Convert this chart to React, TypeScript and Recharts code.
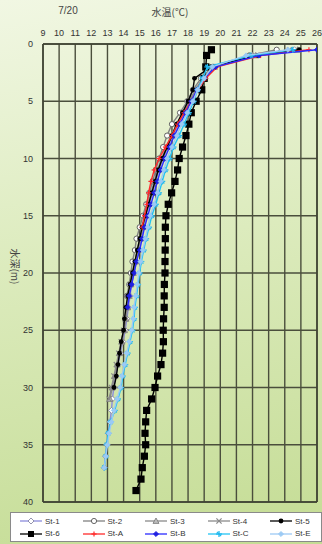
import React from 'react';
import { ScatterChart, Scatter, XAxis, YAxis, CartesianGrid, ReferenceLine } from 'recharts';

const depths = [0.5, 1, 2, 3, 4, 5, 6, 7, 8, 9, 10, 11, 12, 13, 14, 15, 16, 17, 18, 19, 20, 21, 22, 23, 24, 25, 26, 27, 28, 29, 30, 31, 32, 33, 34, 35, 36, 37, 38, 39];
const xTicks = [9, 10, 11, 12, 13, 14, 15, 16, 17, 18, 19, 20, 21, 22, 23, 24, 25, 26];
const yTicks = [0, 5, 10, 15, 20, 25, 30, 35, 40];

const st1 = [24.6, 22.0, 19.6, 19.0, 18.5, 18.15, 17.8, 17.4, 17.05, 16.75, 16.45, 16.2, 16.0, 15.8, 15.6, 15.4, 15.25, 15.1, 14.95, 14.8, 14.65, 14.5, 14.4, 14.3, 14.2, 14.1, 13.95, 13.8, 13.65, 13.5, 13.4, 13.3, 13.25, 13.15, 13.05, 12.95, 12.88, 12.8];
const st2 = [23.5, 21.8, 19.5, 18.8, 18.3, 17.95, 17.5, 17.0, 16.7, 16.45, 16.2, 16.0, 15.8, 15.6, 15.4, 15.2, 15.0, 14.8, 14.7, 14.55, 14.45, 14.35, 14.2];
const st3 = [24.8, 22.2, 19.6, 18.95, 18.5, 18.1, 17.7, 17.3, 17.0, 16.7, 16.4, 16.15, 15.95, 15.75, 15.55, 15.35, 15.2, 15.05, 14.9, 14.75, 14.6, 14.45, 14.35, 14.25, 14.15, 14.05, 13.9, 13.75, 13.6, 13.45, 13.3, 13.15];
const st4 = [24.3, 21.9, 19.5, 18.9, 18.45, 18.05, 17.65, 17.3, 16.95, 16.65, 16.35, 16.1, 15.9, 15.7, 15.5, 15.3, 15.15, 15.0, 14.85, 14.7, 14.55, 14.4, 14.3, 14.2, 14.1, 14.0, 13.85, 13.7, 13.55, 13.4, 13.25, 13.1];
const st5 = [24.9, 22.3, 19.4, 18.4, 18.3, 18.0, 17.65, 17.3, 17.0, 16.7, 16.4, 16.15, 15.95, 15.75, 15.55, 15.35, 15.15, 15.0, 14.85, 14.7, 14.55, 14.4, 14.25, 14.15, 14.05, 14.0, 13.85, 13.75, 13.65, 13.55, 13.4];
const st6 = [19.45, 19.15, 19.1, 19.0, 18.85, 18.5, 18.2, 18.05, 17.87, 17.66, 17.45, 17.35, 17.19, 16.98, 16.77, 16.63, 16.59, 16.59, 16.58, 16.57, 16.57, 16.53, 16.52, 16.52, 16.48, 16.46, 16.47, 16.42, 16.32, 16.11, 15.95, 15.74, 15.43, 15.37, 15.33, 15.37, 15.29, 15.16, 15.08, 14.77];
const stA = [25.5, 22.5, 19.8, 19.1, 18.6, 18.2, 17.75, 17.35, 17.0, 16.6, 16.2, 15.9, 15.7, 15.55, 15.45, 15.3, 15.15];
const stB = [26.0, 22.4, 19.7, 19.0, 18.55, 18.2, 17.85, 17.5, 17.15, 16.85, 16.55, 16.3, 16.1, 15.9, 15.7, 15.5, 15.3, 15.15, 15.0, 14.8, 14.65, 14.5, 14.35, 14.25];
const stC = [24.5, 21.9, 19.2, 18.9, 18.6, 18.35, 18.05, 17.75, 17.45, 17.1, 16.85, 16.6, 16.4, 16.2, 16.0, 15.75, 15.58, 15.4, 15.25, 15.1, 15.0, 14.9, 14.8, 14.7, 14.65, 14.55, 14.4, 14.25, 14.1, 13.95, 13.85, 13.65, 13.45, 13.2, 13.05, 12.95, 12.9, 12.8];
const stE = [24.2, 21.6, 19.5, 19.0, 18.6, 18.3, 17.95, 17.6, 17.3, 17.0, 16.7, 16.5, 16.3, 16.1, 15.9, 15.65, 15.5, 15.35, 15.2, 15.05, 14.95, 14.85, 14.75, 14.65, 14.6, 14.5, 14.35, 14.2, 14.05, 13.9, 13.8, 13.6, 13.4, 13.25, 13.1, 13.0, 12.9, 12.8];

type Kind = 'diamond' | 'circle' | 'triangle' | 'cross' | 'dot' | 'square' | 'plus' | 'smalldiamond' | 'star';

const seriesDefs: { name: string; temps: number[]; line: string; fill: string; stroke: string; kind: Kind; size: number }[] = [
  { name: 'St-1', temps: st1, line: '#8c8cdc', fill: '#ffffff', stroke: '#7a7a9a', kind: 'diamond', size: 3 },
  { name: 'St-2', temps: st2, line: '#808080', fill: '#ffffff', stroke: '#555555', kind: 'circle', size: 2.6 },
  { name: 'St-3', temps: st3, line: '#8a8a8a', fill: '#bdbdbd', stroke: '#777777', kind: 'triangle', size: 3 },
  { name: 'St-4', temps: st4, line: '#8a8a8a', fill: '#8a8a8a', stroke: '#8a8a8a', kind: 'cross', size: 2.6 },
  { name: 'St-5', temps: st5, line: '#000000', fill: '#000000', stroke: '#000000', kind: 'dot', size: 2.4 },
  { name: 'St-6', temps: st6, line: '#000000', fill: '#000000', stroke: '#000000', kind: 'square', size: 3.6 },
  { name: 'St-A', temps: stA, line: '#ff2a2a', fill: '#ff2a2a', stroke: '#ff2a2a', kind: 'plus', size: 2.6 },
  { name: 'St-B', temps: stB, line: '#2a2aff', fill: '#2020e0', stroke: '#2020e0', kind: 'smalldiamond', size: 2.6 },
  { name: 'St-C', temps: stC, line: '#22c4f4', fill: '#22b8ee', stroke: '#22b8ee', kind: 'star', size: 3 },
  { name: 'St-E', temps: stE, line: '#9ccaf4', fill: '#9ccaf4', stroke: '#9ccaf4', kind: 'smalldiamond', size: 2.6 },
];

function marker(kind: Kind, cx: number, cy: number, fill: string, stroke: string, s: number) {
  switch (kind) {
    case 'diamond':
    case 'smalldiamond':
      return <polygon points={`${cx},${cy - s} ${cx + s},${cy} ${cx},${cy + s} ${cx - s},${cy}`} fill={fill} stroke={stroke} strokeWidth={0.8} />;
    case 'circle':
      return <circle cx={cx} cy={cy} r={s} fill={fill} stroke={stroke} strokeWidth={0.9} />;
    case 'dot':
      return <circle cx={cx} cy={cy} r={s} fill={fill} />;
    case 'triangle':
      return <polygon points={`${cx},${cy - s} ${cx + s},${cy + s * 0.8} ${cx - s},${cy + s * 0.8}`} fill={fill} stroke={stroke} strokeWidth={0.8} />;
    case 'square':
      return <rect x={cx - s} y={cy - s} width={2 * s} height={2 * s} fill={fill} />;
    case 'cross':
      return (
        <g stroke={stroke} strokeWidth={1.2}>
          <line x1={cx - s} y1={cy - s} x2={cx + s} y2={cy + s} />
          <line x1={cx - s} y1={cy + s} x2={cx + s} y2={cy - s} />
        </g>
      );
    case 'plus':
      return (
        <g stroke={stroke} strokeWidth={1.2}>
          <line x1={cx - s} y1={cy} x2={cx + s} y2={cy} />
          <line x1={cx} y1={cy - s} x2={cx} y2={cy + s} />
        </g>
      );
    case 'star':
      return (
        <g stroke={stroke} strokeWidth={1.3}>
          <line x1={cx - s} y1={cy} x2={cx + s} y2={cy} />
          <line x1={cx} y1={cy - s} x2={cx} y2={cy + s} />
          <line x1={cx - s * 0.7} y1={cy - s * 0.7} x2={cx + s * 0.7} y2={cy + s * 0.7} />
        </g>
      );
  }
  return null;
}

const tickStyle = { fontSize: 9, fill: '#333', fontFamily: 'Liberation Sans, Arial, sans-serif' };

const XTick = (props: any) => (
  <text x={props.x} y={36} textAnchor="middle" fontSize={9} fill="#333" fontFamily="Liberation Sans, Arial, sans-serif">
    {props.payload.value}
  </text>
);

export default function App() {
  const series = seriesDefs.map((s) => ({
    ...s,
    data: s.temps.map((t, i) => ({ t, d: depths[i] })),
  }));
  return (
    <div
      style={{
        position: 'absolute',
        left: 0,
        top: 0,
        width: 322,
        height: 544,
        overflow: 'hidden',
        background: 'linear-gradient(170deg, #f1f7e3 0%, #dcebbd 45%, #c4dc94 100%)',
        fontFamily: '"Noto Sans CJK JP", "Liberation Sans", sans-serif',
      }}
    >
      <div style={{ position: 'absolute', left: 50, top: 5, width: 36, textAlign: 'center', fontSize: 10, color: '#444', fontFamily: 'Liberation Sans, Arial, sans-serif' }}>7/20</div>
      <div style={{ position: 'absolute', left: 140, top: 4, width: 60, textAlign: 'center', fontSize: 10, color: '#444' }}>水温(℃)</div>
      <div
        style={{
          position: 'absolute',
          left: -15,
          top: 259,
          width: 60,
          textAlign: 'center',
          fontSize: 10,
          color: '#444',
          transform: 'rotate(90deg)',
        }}
      >
        水深(m)
      </div>
      <ScatterChart width={322} height={544} margin={{ top: 0, right: 5, bottom: 42, left: 0 }}>
        <CartesianGrid stroke="#4a4e3c" strokeWidth={1.4} fill="none" />
        <XAxis
          dataKey="t"
          type="number"
          orientation="top"
          domain={[9, 26]}
          ticks={xTicks}
          interval={0}
          height={44}
          tick={<XTick />}
          tickLine={false}
          axisLine={{ stroke: '#3e4232', strokeWidth: 1.5 }}
          allowDataOverflow
        />
        <YAxis
          dataKey="d"
          type="number"
          domain={[0, 40]}
          ticks={yTicks}
          interval={0}
          reversed
          width={43}
          tick={tickStyle}
          tickLine={false}
          tickMargin={4}
          axisLine={{ stroke: '#3e4232', strokeWidth: 1.5 }}
          allowDataOverflow
        />
        <ReferenceLine x={26} stroke="#3e4232" strokeWidth={1.5} />
        <ReferenceLine y={40} stroke="#3e4232" strokeWidth={1.5} />
        {series.map((s) => (
          <Scatter
            key={s.name}
            name={s.name}
            data={s.data}
            fill={s.fill}
            line={{ stroke: s.line, strokeWidth: 1.4 }}
            lineType="joint"
            isAnimationActive={false}
            shape={(p: any) => marker(s.kind, p.cx, p.cy, s.fill, s.stroke, s.size)}
          />
        ))}
      </ScatterChart>
      <div
        style={{
          position: 'absolute',
          left: 10,
          top: 512,
          width: 312,
          height: 30,
          background: '#ffffff',
          border: '1px solid #8a8a8a',
          boxSizing: 'border-box',
        }}
      >
        {series.map((s, i) => {
          const col = i % 5;
          const row = Math.floor(i / 5);
          return (
            <div
              key={s.name}
              style={{ position: 'absolute', left: 8 + col * 62.5, top: 2 + row * 12.5, height: 12, display: 'flex', alignItems: 'center' }}
            >
              <svg width={24} height={10} style={{ display: 'block' }}>
                <line x1={1} y1={5} x2={23} y2={5} stroke={s.line} strokeWidth={1.3} />
                {marker(s.kind, 12, 5, s.fill, s.stroke, Math.min(s.size, 3))}
              </svg>
              <span style={{ fontSize: 8, color: '#333', marginLeft: 2, fontFamily: 'Liberation Sans, Arial, sans-serif' }}>{s.name}</span>
            </div>
          );
        })}
      </div>
    </div>
  );
}
